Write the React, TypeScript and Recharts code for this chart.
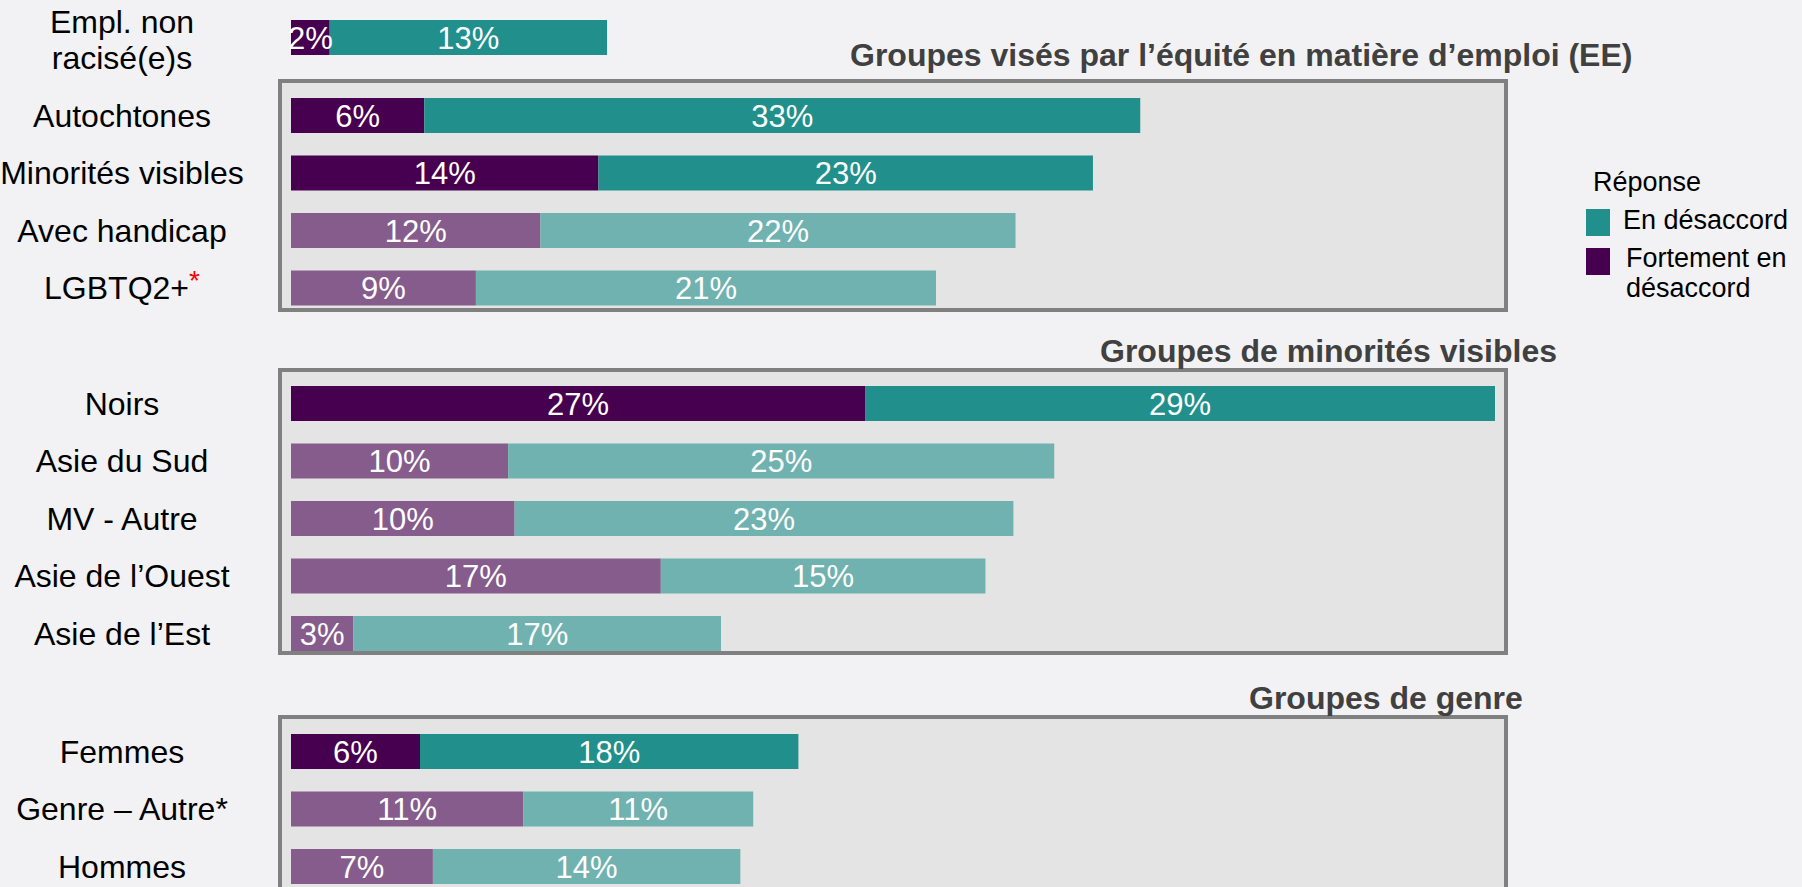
import { BarChart, Bar, XAxis, YAxis, Cell, LabelList } from "recharts"

// --- data (percent of respondents) ---
const emplNames = ["Empl. non\nracisé(e)s"]
const emplStrong = [1.8]
const emplDisagree = [12.9]

const eeNames = ["Autochtones", "Minorités visibles", "Avec handicap", "LGBTQ2+*"]
const eeStrong = [6.2, 14.3, 11.6, 8.6]
const eeDisagree = [33.3, 23.0, 22.1, 21.4]

const mvNames = ["Noirs", "Asie du Sud", "MV - Autre", "Asie de l’Ouest", "Asie de l’Est"]
const mvStrong = [26.7, 10.1, 10.4, 17.2, 2.9]
const mvDisagree = [29.3, 25.4, 23.2, 15.1, 17.1]

const genreNames = ["Femmes", "Genre – Autre*", "Hommes"]
const genreStrong = [6.0, 10.8, 6.6]
const genreDisagree = [17.6, 10.7, 14.3]

// rows drawn with the darker shades
const highlighted = ["Empl. non\nracisé(e)s", "Autochtones", "Minorités visibles", "Noirs", "Femmes"]
const redStar = ["LGBTQ2+*"]

const titles = [
  "Groupes visés par l’équité en matière d’emploi (EE)",
  "Groupes de minorités visibles",
  "Groupes de genre",
]
const legendTitle = "Réponse"
const seriesNames = ["En désaccord", "Fortement en désaccord"]

const FONT = '"Liberation Sans", Arial, Helvetica, sans-serif'
const ROW = 57.5
const AXIS_W = 291
const PLOT_W = 1204
const MAX_PCT = 56
const PAD_T = 12
const PAD_B = 40

const C = {
  strongDark: "#46004F",
  strongLight: "#855C8C",
  disDark: "#21908C",
  disLight: "#70B2B0",
  box: "#E4E4E4",
  border: "#808080",
  title: "#404040",
}

const rows = (names: string[], strong: number[], dis: number[]) =>
  names.map((name, i) => ({ name, strong: strong[i], dis: dis[i] }))

function GroupTick(props: any) {
  const { y, payload } = props
  const label = String(payload.value)
  const lines = label.split("\n")
  const cx = 122
  if (redStar.includes(label)) {
    return (
      <text x={cx} y={y} dy="0.35em" textAnchor="middle" fontSize={32} fontFamily={FONT} fill="#000">
        {label.slice(0, -1)}
        <tspan fill="#FF0000" fontSize={28} dy="-0.35em">*</tspan>
      </text>
    )
  }
  const lh = 36
  const first = 11 - ((lines.length - 1) * lh) / 2 + (lines.length > 1 ? 2 : 0)
  return (
    <text x={cx} y={y} textAnchor="middle" fontSize={32} fontFamily={FONT} fill="#000">
      {lines.map((l, i) => (
        <tspan key={i} x={cx} dy={i === 0 ? first : lh}>
          {l}
        </tspan>
      ))}
    </text>
  )
}

function PctLabel(props: any) {
  const { x, y, width, height, value } = props
  if (value == null) return null
  return (
    <text
      x={x + width / 2}
      y={y + height / 2}
      dy="0.36em"
      textAnchor="middle"
      fontSize={31}
      fontFamily={FONT}
      fill="#FFFFFF"
    >
      {Math.round(value)}%
    </text>
  )
}

// firstRow: page y of the first row's centre
function GroupChart({ data, firstRow }: { data: { name: string; strong: number; dis: number }[]; firstRow: number }) {
  return (
    <div style={{ position: "absolute", left: 0, top: firstRow - ROW / 2 - PAD_T }}>
      <BarChart
        layout="vertical"
        width={AXIS_W + PLOT_W}
        height={data.length * ROW + PAD_T + PAD_B}
        data={data}
        margin={{ top: PAD_T, right: 0, bottom: PAD_B, left: 0 }}
        barCategoryGap={0}
      >
        <XAxis type="number" domain={[0, MAX_PCT]} allowDataOverflow hide />
        <YAxis
          type="category"
          dataKey="name"
          width={AXIS_W}
          axisLine={false}
          tickLine={false}
          interval={0}
          tick={(p: any) => <GroupTick {...p} />}
        />
        <Bar dataKey="strong" stackId="s" barSize={35} isAnimationActive={false}>
          {data.map((d) => (
            <Cell key={d.name} fill={highlighted.includes(d.name) ? C.strongDark : C.strongLight} />
          ))}
          <LabelList dataKey="strong" content={<PctLabel />} />
        </Bar>
        <Bar dataKey="dis" stackId="s" barSize={35} isAnimationActive={false}>
          {data.map((d) => (
            <Cell key={d.name} fill={highlighted.includes(d.name) ? C.disDark : C.disLight} />
          ))}
          <LabelList dataKey="dis" content={<PctLabel />} />
        </Bar>
      </BarChart>
    </div>
  )
}

const boxStyle = (top: number, height: number): React.CSSProperties => ({
  position: "absolute",
  left: 278,
  top,
  width: 1230,
  height,
  background: C.box,
  border: `4px solid ${C.border}`,
  boxSizing: "border-box",
})

const titleStyle = (left: number, top: number): React.CSSProperties => ({
  position: "absolute",
  left,
  top,
  fontSize: 32,
  lineHeight: "32px",
  fontWeight: 700,
  color: C.title,
  whiteSpace: "nowrap",
})

export default function App() {
  return (
    <div
      style={{
        position: "absolute",
        left: 0,
        top: 0,
        width: 1802,
        height: 887,
        overflow: "hidden",
        background: "#F2F2F4",
        fontFamily: FONT,
      }}
    >
      <div style={boxStyle(79, 233)} />
      <div style={boxStyle(368, 287)} />
      <div style={boxStyle(715, 200)} />

      <div style={titleStyle(850, 39)}>{titles[0]}</div>
      <div style={titleStyle(1100, 335)}>{titles[1]}</div>
      <div style={titleStyle(1249, 682)}>{titles[2]}</div>

      <GroupChart data={rows(emplNames, emplStrong, emplDisagree)} firstRow={37.5} />
      <GroupChart data={rows(eeNames, eeStrong, eeDisagree)} firstRow={115.5} />
      <GroupChart data={rows(mvNames, mvStrong, mvDisagree)} firstRow={403.5} />
      <GroupChart data={rows(genreNames, genreStrong, genreDisagree)} firstRow={751.5} />

      {/* legend */}
      <div style={{ position: "absolute", left: 1593, top: 169, fontSize: 27, lineHeight: "27px", color: "#000" }}>
        {legendTitle}
      </div>
      <div style={{ position: "absolute", left: 1586, top: 209, width: 24, height: 27, background: C.disDark }} />
      <div style={{ position: "absolute", left: 1623, top: 207, fontSize: 27, lineHeight: "27px", color: "#000" }}>
        {seriesNames[0]}
      </div>
      <div style={{ position: "absolute", left: 1586, top: 248, width: 24, height: 27, background: C.strongDark }} />
      <div
        style={{ position: "absolute", left: 1626, top: 243, width: 175, fontSize: 27, lineHeight: "30px", color: "#000" }}
      >
        {seriesNames[1]}
      </div>
    </div>
  )
}
